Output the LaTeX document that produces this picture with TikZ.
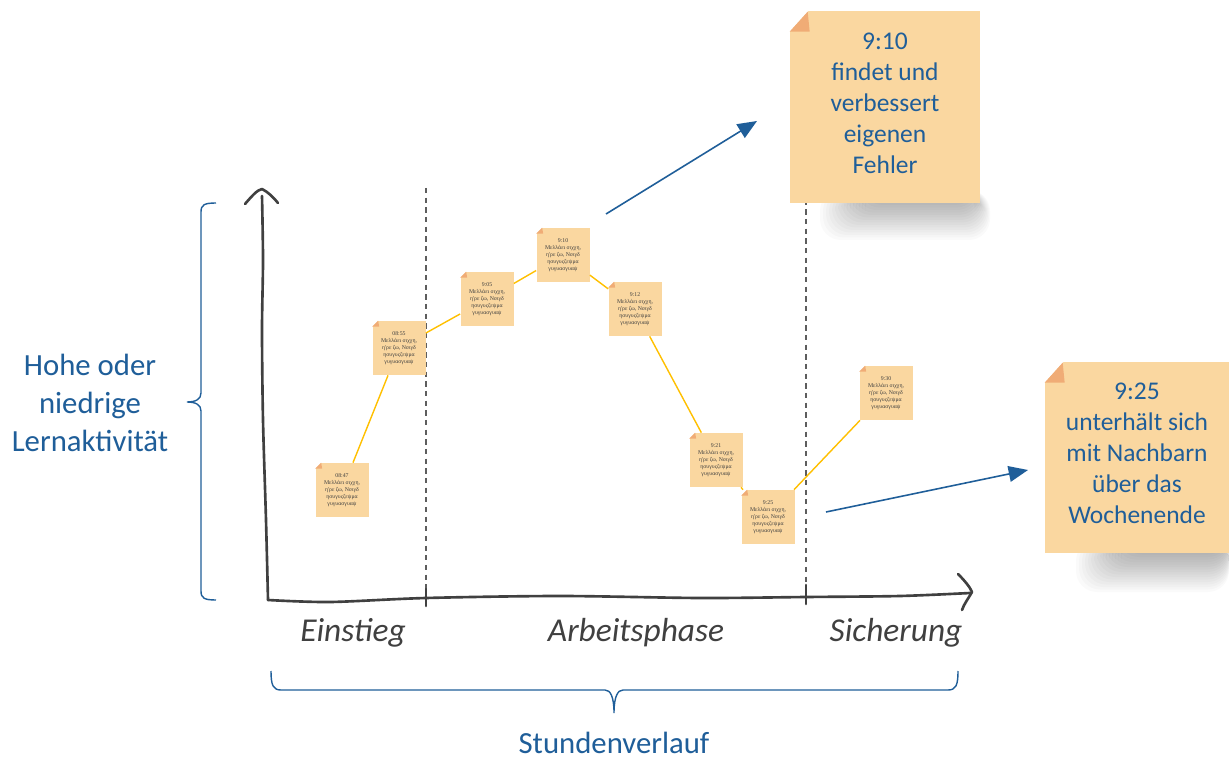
\documentclass[tikz,border=0pt]{standalone}
\usepackage{fontspec}
\setmainfont{Carlito}
\newfontfamily\notefont{Liberation Serif}
\usetikzlibrary{arrows.meta,calc}
\definecolor{textblue}{RGB}{31,94,153}
\definecolor{notefill}{RGB}{250,215,160}
\definecolor{notefold}{RGB}{240,172,118}
\definecolor{linkyellow}{RGB}{255,192,0}
\definecolor{axisgray}{RGB}{64,64,64}
\tikzset{
  smallnote/.style={fill=notefill, minimum width=1.06cm, minimum height=1.08cm, inner sep=0pt,
    align=center, text=axisgray, font=\notefont\fontsize{3.3}{4}\selectfont},
  bignote/.style={fill=notefill, minimum width=3.8cm, minimum height=3.84cm, inner sep=0pt,
    align=center, text=textblue, font=\fontsize{14.5}{17.6}\selectfont},
  link/.style={linkyellow, line width=0.8pt},
  pointer/.style={-{Triangle[length=11pt, width=9pt]}, textblue, line width=0.9pt},
  handline/.style={axisgray, line width=1.5pt, line cap=round, line join=round},
  phaseline/.style={axisgray!85, line width=0.8pt, dash pattern=on 3pt off 2.5pt},
  phase/.style={text=axisgray, font=\itshape\fontsize{19}{22}\selectfont},
  bluetext/.style={text=textblue, align=center, inner sep=1pt, font=\fontsize{17.5}{21.6}\selectfont},
  bracket/.style={textblue, line width=0.8pt},
}
\newcommand{\notebody}{Μελλάει σιχχη,\\η'ρε ζω, Νσιγδ\\ησυγυςζεψμα\\γυγυασγυαψ}
\begin{document}
\begin{tikzpicture}[x=0.02cm, y=-0.02cm]
\useasboundingbox[fill=white] (0,0) rectangle (1229,759);

% soft shadows of the big notes
\foreach \k in {0,...,15} {
  \fill[black, opacity=0.018, rounded corners=12pt] (820+\k*3,190) rectangle (990-\k,240-\k*2.5);
  \fill[black, opacity=0.018, rounded corners=12pt] (1076+\k*3,540) rectangle (1229,592-\k*2.5);
}

% phases
\draw[phaseline] (426,188) -- (426,590);
\draw[phaseline] (806,190) -- (806,585);

% axes
\coordinate (origin) at (268,600);
\draw[handline] plot[smooth] coordinates {(origin) (266,520) (263,420) (262,330) (263,260) (262,196)};
\draw[handline] (245,204) .. controls (252,196) and (257,190) .. (262,189) .. controls (268,192) and (273,197) .. (278,203);
\draw[handline] plot[smooth] coordinates {(origin) (330,602) (426,598) (560,596) (700,598) (806,597) (900,596) (970,593)};
\draw[handline] (958,574) .. controls (964,580) and (970,587) .. (972,592) .. controls (968,599) and (964,604) .. (962,610);
\draw[handline] (426,589) -- (426,606);
\draw[handline] (806,585) -- (806,604);
\node[phase] (einstieg) at (353,633) {Einstieg};
\node[phase] (arbeit) at (636,633) {Arbeitsphase};
\node[phase] (sicherung) at (896,633) {Sicherung};

% brackets
\draw[bracket] (216,203) .. controls (204,203) and (201,205) .. (201,212) -- (201,393)
  .. controls (201,399) and (196,402) .. (187,402) .. controls (196,402) and (201,405) .. (201,411)
  -- (201,591) .. controls (201,598) and (204,600) .. (216,600);
\node[bluetext] (activity) at (90,403) {Hohe oder\\niedrige\\Lernaktivität};
\draw[bracket] (271,671) .. controls (271,685) and (273,690) .. (281,690) -- (605,690)
  .. controls (610,690) and (614,696) .. (614,713) .. controls (614,696) and (618,690) .. (623,690)
  -- (948,690) .. controls (956,690) and (958,685) .. (958,671);
\node[bluetext] (lesson) at (614,743) {Stundenverlauf};

% small notes
\node[smallnote] (t0847) at (342,490) {08:47\\\notebody};
\node[smallnote] (t0855) at (399,348) {08:55\\\notebody};
\node[smallnote] (t0905) at (487,299) {9:05\\\notebody};
\node[smallnote] (t0910) at (563,255) {9:10\\\notebody};
\node[smallnote] (t0912) at (635,309) {9:12\\\notebody};
\node[smallnote] (t0921) at (716,460) {9:21\\\notebody};
\node[smallnote] (t0925) at (768,517) {9:25\\\notebody};
\node[smallnote] (t0930) at (886,393) {9:30\\\notebody};
\foreach \n in {t0847,t0855,t0905,t0910,t0912,t0921,t0925,t0930} {
  \fill[white] (\n.north west) -- ++(6,0) -- ++(-6,6) -- cycle;
  \fill[notefold] ($(\n.north west)+(0,6)$) -- ++(6,-6) -- ++(1,6) -- cycle;
}
\foreach \a/\b in {t0847/t0855, t0855/t0905, t0905/t0910, t0910/t0912, t0912/t0921, t0921/t0925, t0925/t0930}
  \draw[link] (\a) -- (\b);

% big notes
\node[bignote] (fehler) at (885,107) {9:10\\findet und\\verbessert\\eigenen\\Fehler\\[-13pt]\mbox{}};
\node[bignote, minimum width=3.68cm, minimum height=3.82cm] (nachbar) at (1137,457.5)
  {9:25\\unterhält sich\\mit Nachbarn\\über das\\Wochenende\\[-13pt]\mbox{}};
\foreach \n in {fehler,nachbar} {
  \fill[white] (\n.north west) -- ++(19,0) -- ++(-19,21) -- cycle;
  \fill[notefold] ($(\n.north west)+(0,21)$) -- ++(18,-20) -- ++(2,20) -- cycle;
}
\coordinate (fromtop) at (606,214);
\coordinate (totop) at (757,121);
\coordinate (frombottom) at (826,512);
\coordinate (tobottom) at (1028,470);
\draw[pointer] (fromtop) -- (totop);
\draw[pointer] (frombottom) -- (tobottom);
\end{tikzpicture}
\end{document}
